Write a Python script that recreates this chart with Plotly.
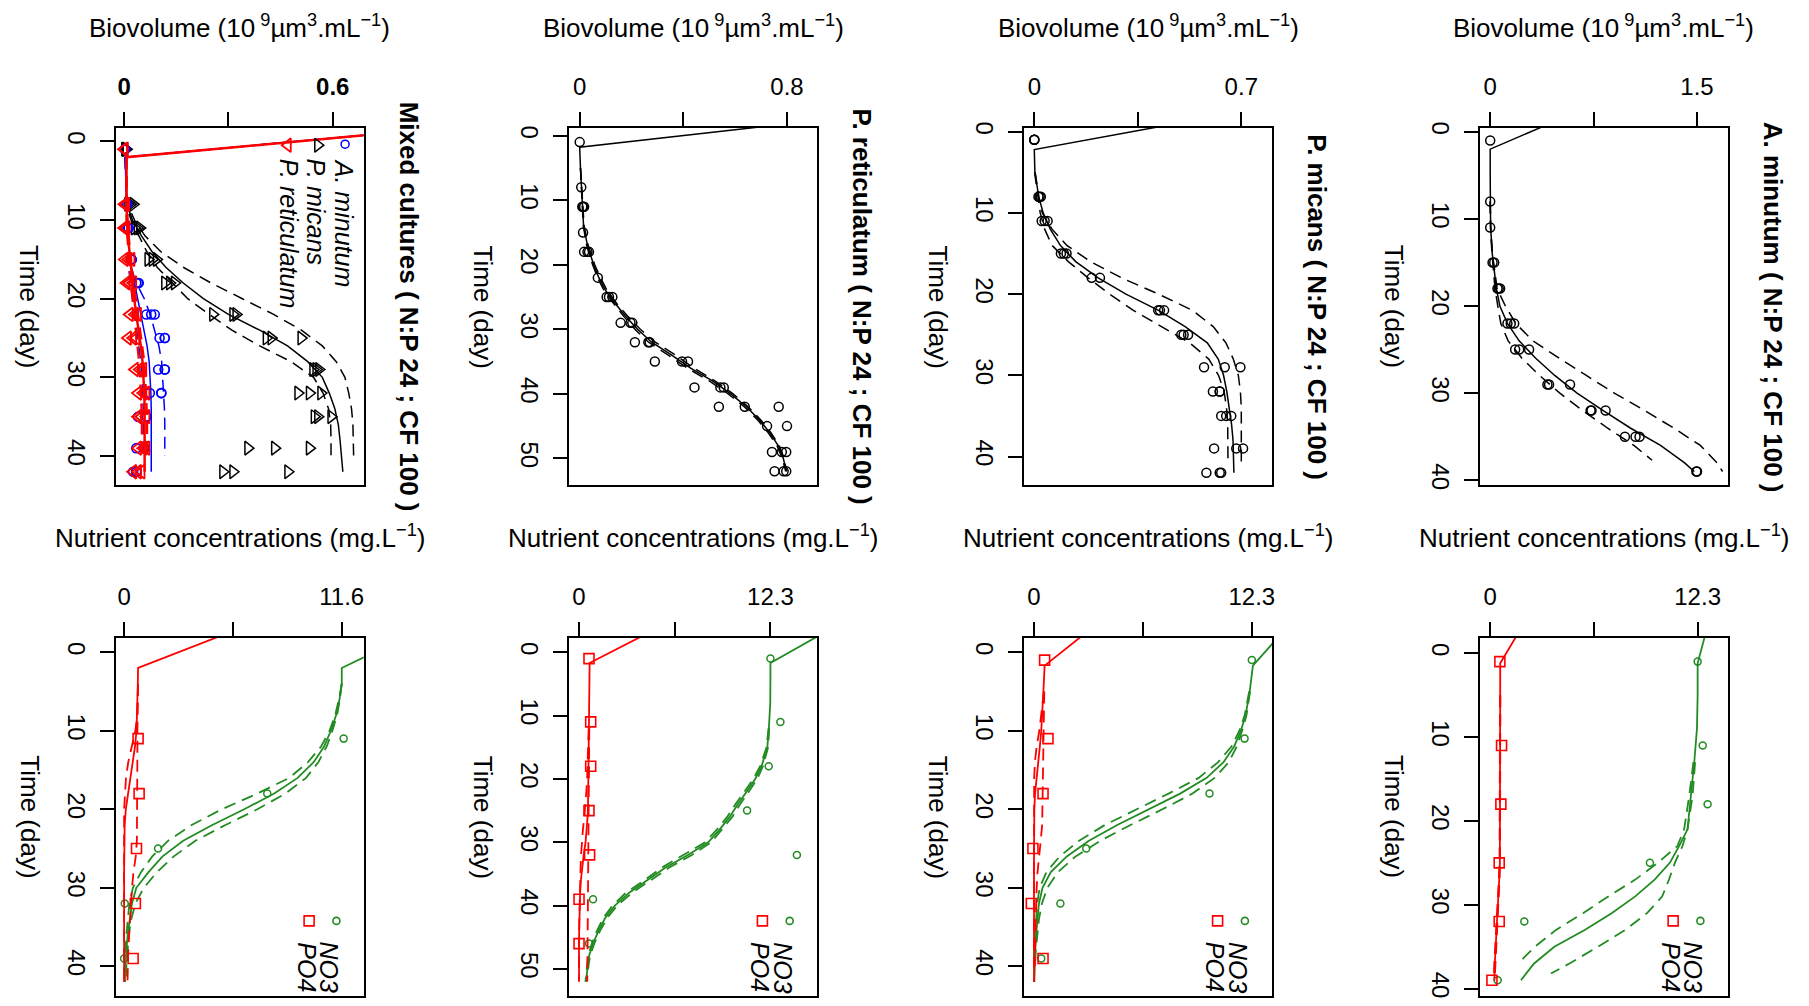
import plotly.graph_objects as go

W, H = 1809, 1006
OFF = 8  # the page body margin that offsets the figure on screen
FONT = "Liberation Sans, Arial, Helvetica, sans-serif"
RED, BLUE, GREEN, BLACK = "#FF0000", "#0000FF", "#228B22", "#000000"

# ======================= DATA =======================
# ---- Panel 1: mixed cultures, biovolume ----
MIX_OBS_T = [1, 1, 1, 8, 8, 8, 11, 11, 11, 15, 15, 15, 18, 18, 18, 22, 22, 22,
             25, 25, 25, 29, 29, 29, 32, 32, 32, 35, 35, 35, 39, 39, 39, 42, 42, 42]
MIX_PMIC_OBS = [.002, .004, .006, .011, .018, .026, .03, .038, .045, .069, .081, .093,
                .117, .131, .145, .255, .313, .322, .409, .423, .509, .543, .552, .56,
                .5, .533, .566, .547, .557, .595, .356, .433, .533, .284, .313, .471]
MIX_AMIN_OBS = [.002, .002, .003, .007, .008, .009, .01, .012, .013, .02, .021, .022,
                .035, .04, .042, .064, .078, .088, .102, .117, .117, .098, .117, .117,
                .074, .107, .107, .04, .064, .064, .035, .059, .059, .026, .035, .035]
MIX_PRET_OBS = [0, .001, .002, .001, .003, .006, 0, .004, .007, .002, .012, .021,
                .007, .015, .026, .016, .031, .04, .011, .026, .035, .031, .045, .055,
                .04, .055, .064, .04, .05, .064, .04, .055, .064, .026, .04, .05]
MIX_FIT_T = [-4, 2, 5, 8, 10, 12, 14, 16, 18, 20, 22, 24, 26, 28, 30, 32, 34, 36, 38, 40, 42]
MIX_PMIC_FIT = [1.48, .004, .005, .008, .024, .05, .08, .12, .17, .228, .30, .39, .47, .528,
                .57, .59, .606, .616, .621, .625, .629]
MIX_AMIN_FIT = [1.48, .003, .005, .007, .009, .012, .015, .021, .03, .038, .046, .056, .066,
                .072, .075, .077, .078, .078, .078, .078, .078]
MIX_PRET_FIT = [1.48, .007, .007, .007, .008, .011, .015, .019, .024, .029, .035, .042, .048,
                .053, .056, .058, .059, .059, .059, .059, .059]
MIX_DASH_T = [2, 5, 8, 10, 12, 14, 16, 18, 20, 22, 24, 26, 28, 30, 32, 34, 36, 38, 40]
MIX_PMIC_UP = [.004, .005, .01, .03, .06, .105, .17, .25, .34, .43, .51, .57, .61, .635,
               .646, .654, .658, .659, .66]
MIX_PMIC_LO = [.004, .005, .006, .02, .042, .065, .095, .14, .183, .245, .31, .39, .48, .545,
               .572, .588, .594, .595, .595]
MIX_AMIN_UP = [.003, .005, .008, .01, .013, .016, .02, .035, .058, .075, .088, .1, .108, .111,
               .113, .116, .117, .117, .117]
MIX_AMIN_LO = [.003, .005, .006, .008, .01, .012, .013, .018, .024, .03, .037, .043, .048, .052,
               .054, .055, .055, .055, .055]
MIX_PRET_UP = [.007, .007, .008, .01, .013, .017, .022, .028, .034, .041, .048, .054, .058, .061,
               .064, .065, .066, .066, .066]
MIX_PRET_LO = [.007, .007, .006, .007, .009, .012, .015, .019, .024, .029, .034, .039, .043, .046,
               .049, .05, .051, .051, .051]

# ---- Panel 2: mixed cultures, nutrients ----
MIXN_OBS_T = [11, 18, 25, 32, 39]
MIXN_NO3 = [11.7, 7.63, 1.81, 0.035, 0.0]
MIXN_PO4 = [0.745, 0.80, 0.66, 0.60, 0.48]
MIXN_FIT_T = [-4, 2, 4, 6, 8, 10, 12, 14, 16, 18, 20, 22, 24, 26, 28, 30, 32, 34, 36, 38, 40, 42]
MIXN_NO3_FIT = [16.8, 11.6, 11.6, 11.48, 11.3, 11.02, 10.66, 10.1, 9.25, 8.0, 6.4, 4.7, 3.15,
                2.05, 1.3, 0.65, 0.42, 0.29, 0.19, 0.12, 0.08, 0.035]
MIXN_PO4_FIT = [7.2, 0.745, 0.73, 0.71, 0.69, 0.66, 0.58, 0.45, 0.32, 0.2, 0.09, 0.03, 0.01,
                0, 0, 0, 0, 0, 0, 0, 0, 0]
MIXN_DASH_T = [4, 6, 8, 10, 12, 14, 16, 18, 20, 22, 24, 26, 28, 30, 32, 34, 36, 38, 40, 42]
MIXN_NO3_UP = [11.6, 11.5, 11.35, 11.1, 10.8, 10.35, 9.7, 8.6, 7.1, 5.4, 3.8, 2.65, 1.75, 1.05,
               0.6, 0.38, 0.25, 0.17, 0.12, 0.1]
MIXN_NO3_LO = [11.6, 11.45, 11.25, 10.95, 10.5, 9.8, 8.8, 7.1, 5.2, 3.6, 2.35, 1.5, 0.9, 0.47,
               0.28, 0.18, 0.12, 0.08, 0.06, 0.05]
MIXN_PO4_UP = [0.74, 0.72, 0.71, 0.71, 0.71, 0.71, 0.71, 0.71, 0.71, 0.7, 0.68, 0.62, 0.5, 0.42,
               0.36, 0.3, 0.25, 0.22, 0.2, 0.18]
MIXN_PO4_LO = [0.74, 0.72, 0.7, 0.6, 0.4, 0.22, 0.1, 0.03, 0, 0, 0, 0, 0, 0, 0, 0, 0, 0, 0, 0]

# ---- Panel 3: P. reticulatum, biovolume ----
PRET_OBS_T = [1, 8, 11, 11, 11, 15, 18, 18, 18, 22, 25, 25, 25, 29, 29, 29, 32, 32, 32,
              35, 35, 35, 39, 39, 39, 42, 42, 42, 45, 45, 49, 49, 49, 52, 52, 52]
PRET_OBS = [0, .006, .01, .013, .017, .013, .017, .03, .036, .07, .104, .113, .126,
            .158, .196, .203, .213, .265, .27, .29, .395, .418, .443, .543, .556,
            .537, .637, .768, .723, .8, .742, .78, .797, .752, .787, .797]
PRET_FIT_T = [-4, 1.8, 5, 8, 11, 14, 17, 20, 22, 24, 26, 28, 30, 32, 34, 36, 38, 40, 42, 44,
              46, 48, 50, 52]
PRET_FIT = [1.28, 0, .003, .007, .011, .015, .03, .054, .074, .1, .137, .178, .223, .278,
            .355, .428, .512, .583, .643, .693, .733, .766, .786, .797]
PRET_DASH_T = [5, 8, 11, 14, 17, 20, 22, 24, 26, 28, 30, 32, 34, 36, 38, 40, 42, 44, 46, 48, 50, 52]
PRET_UP = [.003, .008, .012, .017, .033, .058, .08, .106, .143, .186, .234, .292, .37, .44,
           .522, .592, .65, .698, .738, .77, .789, .798]
PRET_LO = [.003, .006, .01, .014, .027, .05, .069, .094, .131, .17, .213, .266, .342, .415,
           .5, .573, .635, .686, .727, .761, .782, .795]

# ---- Panel 4: P. micans, biovolume ----
PMIC_OBS_T = [1, 1, 1, 8, 8, 8, 11, 11, 11, 15, 15, 15, 18, 18, 22, 22, 22, 25, 25, 25,
              29, 29, 29, 32, 32, 32, 35, 35, 35, 39, 39, 39, 42, 42, 42]
PMIC_OBS = [0, 0, 0, .014, .018, .022, .025, .035, .045, .09, .1, .109, .194, .222,
            .419, .425, .439, .497, .505, .52, .574, .644, .697, .604, .627, .627,
            .632, .649, .666, .608, .683, .706, .582, .627, .632]
PMIC_FIT_T = [-4, 2.2, 5, 8, 10, 12, 14, 16, 18, 20, 22, 24, 26, 28, 30, 32, 34, 36, 38, 40, 42]
PMIC_FIT = [0.93, 0, .002, .015, .03, .054, .088, .14, .216, .31, .42, .51, .585, .622,
            .64, .651, .659, .667, .672, .674, .675]
PMIC_DASH_T = [5, 8, 10, 12, 14, 16, 18, 20, 22, 24, 26, 28, 30, 32, 34, 36, 38, 40, 41]
PMIC_UP = [.003, .015, .027, .06, .11, .19, .295, .42, .535, .605, .648, .673, .69, .697,
           .7, .7, .7, .7, .7]
PMIC_LO = [.001, .012, .02, .035, .06, .115, .182, .255, .335, .43, .525, .59, .623, .642,
           .65, .654, .655, .655, .655]

# ---- Panel 5: A. minutum, biovolume ----
AMIN_OBS_T = [1, 8, 11, 15, 15, 18, 18, 18, 22, 22, 22, 25, 25, 25, 29, 29, 29,
              32, 32, 32, 35, 35, 35, 39, 39]
AMIN_OBS = [0, 0, 0, .017, .029, .053, .062, .072, .125, .149, .174, .181, .21, .282,
            .415, .427, .579, .728, .735, .837, .977, 1.054, 1.083, 1.495, 1.5]
AMIN_FIT_T = [-4, 2, 5, 8, 11, 14, 16, 18, 20, 22, 24, 26, 28, 30, 32, 34, 36, 38, 39]
AMIN_FIT = [0.884, 0, 0, 0, .003, .015, .029, .045, .07, .125, .21, .33, .47, .63, .82,
            1.016, 1.235, 1.41, 1.48]
AMIN_UP_T = [8, 11, 14, 16, 18, 20, 22, 24, 26, 28, 30, 32, 34, 36, 38, 39]
AMIN_UP = [0, .004, .016, .032, .05, .11, .185, .31, .5, .7, .9, 1.12, 1.33, 1.524, 1.645, 1.685]
AMIN_LO_T = [8, 11, 14, 16, 18, 20, 22, 24, 26, 28, 30, 32, 34, 36, 37.7]
AMIN_LO = [0, .002, .013, .024, .035, .055, .077, .13, .23, .36, .505, .67, .85, 1.042, 1.174]

# ---- Panel 6: P. reticulatum, nutrients ----
PRETN_OBS_T = [1, 11, 18, 25, 32, 39, 46]
PRETN_NO3 = [12.3, 12.94, 12.19, 10.8, 14.0, 0.9, 0.64]
PRETN_PO4 = [0.64, 0.75, 0.75, 0.64, 0.68, 0.0, 0.0]
PRETN_FIT_T = [-4, 1.7, 4, 8, 12, 15, 18, 20, 22, 24, 26, 28, 30, 32, 34, 36, 38, 40, 42,
               44, 46, 48, 50, 52]
PRETN_NO3_FIT = [16.4, 12.3, 12.3, 12.29, 12.2, 12.1, 11.73, 11.32, 10.78, 10.2, 9.68, 9.03,
                 8.3, 7.0, 5.56, 4.4, 3.2, 2.3, 1.67, 1.25, 0.9, 0.64, 0.53, 0.44]
PRETN_PO4_FIT = [5.2, 0.68, 0.67, 0.66, 0.64, 0.63, 0.62, 0.61, 0.6, 0.58, 0.55, 0.5, 0.42,
                 0.3, 0.2, 0.12, 0.07, 0.04, 0.02, 0.01, 0, 0, 0, 0]
PRETN_DASH_T = [12, 15, 18, 20, 22, 24, 26, 28, 30, 32, 34, 36, 38, 40, 42, 44, 46, 48, 50, 52]
PRETN_NO3_UP = [12.22, 12.15, 11.82, 11.45, 10.92, 10.35, 9.85, 9.2, 8.5, 7.25, 5.8, 4.6, 3.4,
                2.45, 1.8, 1.35, 0.98, 0.7, 0.58, 0.47]
PRETN_NO3_LO = [12.18, 12.05, 11.64, 11.2, 10.64, 10.05, 9.52, 8.86, 8.1, 6.75, 5.32, 4.2, 3.0,
                2.15, 1.55, 1.15, 0.82, 0.58, 0.48, 0.41]
PRETN_PO4_UP = [0.66, 0.65, 0.64, 0.64, 0.63, 0.62, 0.62, 0.61, 0.6, 0.6, 0.59, 0.58, 0.57,
                0.56, 0.56, 0.55, 0.55, 0.54, 0.54, 0.53]
PRETN_PO4_LO = [0.62, 0.6, 0.56, 0.52, 0.47, 0.42, 0.34, 0.25, 0.18, 0.13, 0.1, 0.07, 0.05,
                0.03, 0.02, 0.01, 0, 0, 0, 0]

# ---- Panel 7: P. micans, nutrients ----
PMICN_OBS_T = [1, 11, 18, 25, 32, 39]
PMICN_NO3 = [12.3, 11.89, 9.91, 2.95, 1.49, 0.41]
PMICN_PO4 = [0.6, 0.79, 0.51, -0.06, -0.15, 0.51]
PMICN_FIT_T = [-4, 1.7, 5, 8, 10, 12, 14, 16, 18, 20, 22, 24, 26, 28, 30, 32, 34, 36, 38, 40, 42]
PMICN_NO3_FIT = [14.6, 12.36, 12.18, 11.95, 11.68, 11.3, 10.7, 9.75, 8.25, 6.5, 4.7, 3.1, 1.85,
                 0.95, 0.48, 0.28, 0.18, 0.12, 0.07, 0.04, 0.02]
PMICN_PO4_FIT = [3.78, 0.6, 0.53, 0.47, 0.41, 0.33, 0.23, 0.14, 0.06, 0.02, 0, 0, 0, 0, 0, 0,
                 0, 0, 0, 0, 0]
PMICN_DASH_T = [5, 8, 10, 12, 14, 16, 18, 20, 22, 24, 26, 28, 30, 32, 34, 36, 38, 40]
PMICN_NO3_UP = [12.2, 12.0, 11.75, 11.45, 11.0, 10.2, 8.95, 7.25, 5.45, 3.75, 2.35, 1.35, 0.75,
                0.45, 0.28, 0.18, 0.1, 0.06]
PMICN_NO3_LO = [12.15, 11.9, 11.6, 11.15, 10.4, 9.3, 7.6, 5.8, 4.0, 2.55, 1.45, 0.7, 0.32,
                0.18, 0.1, 0.06, 0.03, 0.02]
PMICN_PO4_UP = [0.58, 0.56, 0.55, 0.54, 0.53, 0.52, 0.51, 0.5, 0.46, 0.38, 0.28, 0.2, 0.15,
                0.12, 0.1, 0.08, 0.06, 0.05]
PMICN_PO4_LO = [0.56, 0.42, 0.3, 0.15, 0.05, 0.01, 0, 0, 0, 0, 0, 0, 0, 0, 0, 0, 0, 0]

# ---- Panel 8: A. minutum, nutrients ----
AMINN_OBS_T = [1, 11, 18, 25, 32, 39]
AMINN_NO3 = [12.3, 12.6, 12.89, 9.47, 2.02, 0.44]
AMINN_PO4 = [0.57, 0.67, 0.63, 0.53, 0.53, 0.1]
AMINN_FIT_T = [-4, 1.2, 5, 9, 13, 17, 21, 23, 25, 27, 29, 31, 33, 35, 37, 39]
AMINN_NO3_FIT = [12.99, 12.3, 12.3, 12.26, 12.1, 11.9, 11.7, 11.2, 10.65, 9.75, 8.6, 7.2, 5.6,
                 3.8, 2.6, 1.82]
AMINN_PO4_FIT = [2.13, 0.59, 0.59, 0.59, 0.59, 0.59, 0.59, 0.58, 0.57, 0.53, 0.47, 0.41, 0.35,
                 0.3, 0.27, 0.24]
AMINN_UP_T = [13, 17, 21, 23, 25, 27, 29, 31, 33, 35, 37, 38.2]
AMINN_NO3_UP = [12.15, 12.0, 11.7, 11.4, 10.95, 10.6, 10.2, 9.3, 8.0, 6.4, 4.7, 3.6]
AMINN_LO_T = [13, 17, 21, 23, 25, 27, 29, 31, 33, 35, 37]
AMINN_NO3_LO = [12.05, 11.8, 11.5, 11.1, 9.93, 8.6, 7.0, 5.5, 3.9, 2.65, 1.65]
AMINN_PO4_DASH_T = [5, 9, 13, 17, 21, 23, 25, 27, 29, 31, 33, 35, 37, 39]
AMINN_PO4_UP = [0.6, 0.6, 0.6, 0.6, 0.6, 0.59, 0.58, 0.55, 0.5, 0.45, 0.39, 0.34, 0.3, 0.26]
AMINN_PO4_LO = [0.58, 0.58, 0.58, 0.58, 0.58, 0.57, 0.55, 0.51, 0.45, 0.38, 0.32, 0.27, 0.24, 0.21]

# ---- text ----
BIO_TITLE = "Biovolume (10<sup> 9</sup>µm<sup>3</sup>.mL<sup>−1</sup>)"
NUT_TITLE = "Nutrient concentrations (mg.L<sup>−1</sup>)"
TIME_TITLE = "Time (day)"
PANEL_TITLES = ["Mixed cultures ( N:P 24 ; CF 100 )", "P. reticulatum ( N:P 24 ; CF 100 )",
                "P. micans ( N:P 24 ; CF 100 )", "A. minutum ( N:P 24 ; CF 100 )"]
SPECIES_LEG = ["A. minutum", "P. micans", "P. reticulatum"]
NUT_LEG = ["NO3", "PO4"]

# ======================= LAYOUT (screen pixel positions) =======================
COL_X = [(115.7, 364.3), (570.0, 818.3), (1025.7, 1274.3), (1482.3, 1730.5)]
ROW_Y = [(122.3, 483.7), (637.7, 1000.0)]
TITLE_SIZE = 26

PANELS = [
    dict(col=0, row=0, xr=[-0.0247, 0.689], tr=[43.75, -1.7], xt=[0, 0.3, 0.6], xl=["0", "", "0.6"], yt=[0, 10, 20, 30, 40], bold=True),
    dict(col=1, row=0, xr=[-0.041, 0.9156], tr=[54.2, -1.18], xt=[0, 0.4, 0.8], xl=["0", "", "0.8"], yt=[0, 10, 20, 30, 40, 50]),
    dict(col=2, row=0, xr=[-0.0348, 0.8045], tr=[43.57, -0.45], xt=[0, 0.35, 0.7], xl=["0", "", "0.7"], yt=[0, 10, 20, 30, 40]),
    dict(col=3, row=0, xr=[-0.075, 1.722], tr=[40.6, -0.42], xt=[0, 0.75, 1.5], xl=["0", "", "1.5"], yt=[0, 10, 20, 30, 40]),
    dict(col=0, row=1, xr=[-0.458, 12.77], tr=[43.8, -1.84], xt=[0, 5.8, 11.6], xl=["0", "", "11.6"], yt=[0, 10, 20, 30, 40]),
    dict(col=1, row=1, xr=[-0.64, 15.29], tr=[54.3, -2.28], xt=[0, 6.15, 12.3], xl=["0", "", "12.3"], yt=[0, 10, 20, 30, 40, 50]),
    dict(col=2, row=1, xr=[-0.564, 13.45], tr=[43.8, -1.84], xt=[0, 6.15, 12.3], xl=["0", "", "12.3"], yt=[0, 10, 20, 30, 40]),
    dict(col=3, row=1, xr=[-0.617, 14.08], tr=[40.9, -1.84], xt=[0, 6.15, 12.3], xl=["0", "", "12.3"], yt=[0, 10, 20, 30, 40]),
]

fig = go.Figure()


def px(x):
    return (x - OFF) / W


def py(y):
    return 1 - (y - OFF) / H


def ax(k):
    return ("x" if k == 0 else f"x{k+1}"), ("y" if k == 0 else f"y{k+1}")


def line(k, t, v, color, dash="solid", width=1.5):
    xa, ya = ax(k)
    fig.add_trace(go.Scatter(x=v, y=t, xaxis=xa, yaxis=ya, mode="lines",
                             line=dict(color=color, width=width,
                                       dash=("12px,7px" if dash == "dash" else "solid")),
                             showlegend=False, hoverinfo="skip"))


def pts(k, t, v, color, symbol, size=9, lw=1.5):
    xa, ya = ax(k)
    fig.add_trace(go.Scatter(x=v, y=t, xaxis=xa, yaxis=ya, mode="markers",
                             marker=dict(symbol=symbol, size=size, color=color,
                                         line=dict(color=color, width=lw)),
                             showlegend=False, hoverinfo="skip", cliponaxis=False))


# ---- Panel 1 ----
pts(0, MIX_OBS_T, MIX_PMIC_OBS, BLACK, "triangle-right-open", 12, 1.5)
line(0, MIX_FIT_T, MIX_PMIC_FIT, BLACK)
line(0, MIX_DASH_T, MIX_PMIC_UP, BLACK, "dash")
line(0, MIX_DASH_T, MIX_PMIC_LO, BLACK, "dash")
pts(0, MIX_OBS_T, MIX_AMIN_OBS, BLUE, "circle-open", 9, 1.6)
line(0, MIX_FIT_T, MIX_AMIN_FIT, BLUE)
line(0, MIX_DASH_T, MIX_AMIN_UP, BLUE, "dash")
line(0, MIX_DASH_T, MIX_AMIN_LO, BLUE, "dash")
pts(0, MIX_OBS_T, MIX_PRET_OBS, RED, "triangle-left-open", 12, 1.8)
line(0, MIX_FIT_T, MIX_PRET_FIT, RED, width=2.5)
line(0, MIX_DASH_T, MIX_PRET_UP, RED, "dash", 2.2)
line(0, MIX_DASH_T, MIX_PRET_LO, RED, "dash", 2.2)

# ---- Panels 3-5 (single species biovolume) ----
pts(1, PRET_OBS_T, PRET_OBS, BLACK, "circle-open")
line(1, PRET_FIT_T, PRET_FIT, BLACK)
line(1, PRET_DASH_T, PRET_UP, BLACK, "dash")
line(1, PRET_DASH_T, PRET_LO, BLACK, "dash")

pts(2, PMIC_OBS_T, PMIC_OBS, BLACK, "circle-open")
line(2, PMIC_FIT_T, PMIC_FIT, BLACK)
line(2, PMIC_DASH_T, PMIC_UP, BLACK, "dash")
line(2, PMIC_DASH_T, PMIC_LO, BLACK, "dash")

pts(3, AMIN_OBS_T, AMIN_OBS, BLACK, "circle-open")
line(3, AMIN_FIT_T, AMIN_FIT, BLACK)
line(3, AMIN_UP_T, AMIN_UP, BLACK, "dash")
line(3, AMIN_LO_T, AMIN_LO, BLACK, "dash")

# ---- Nutrient panels ----
NUT = [
    (4, MIXN_OBS_T, MIXN_NO3, MIXN_PO4, MIXN_FIT_T, MIXN_NO3_FIT, MIXN_PO4_FIT,
     MIXN_DASH_T, MIXN_NO3_UP, MIXN_DASH_T, MIXN_NO3_LO, MIXN_DASH_T, MIXN_PO4_UP, MIXN_PO4_LO),
    (5, PRETN_OBS_T, PRETN_NO3, PRETN_PO4, PRETN_FIT_T, PRETN_NO3_FIT, PRETN_PO4_FIT,
     PRETN_DASH_T, PRETN_NO3_UP, PRETN_DASH_T, PRETN_NO3_LO, PRETN_DASH_T, PRETN_PO4_UP, PRETN_PO4_LO),
    (6, PMICN_OBS_T, PMICN_NO3, PMICN_PO4, PMICN_FIT_T, PMICN_NO3_FIT, PMICN_PO4_FIT,
     PMICN_DASH_T, PMICN_NO3_UP, PMICN_DASH_T, PMICN_NO3_LO, PMICN_DASH_T, PMICN_PO4_UP, PMICN_PO4_LO),
    (7, AMINN_OBS_T, AMINN_NO3, AMINN_PO4, AMINN_FIT_T, AMINN_NO3_FIT, AMINN_PO4_FIT,
     AMINN_UP_T, AMINN_NO3_UP, AMINN_LO_T, AMINN_NO3_LO, AMINN_PO4_DASH_T, AMINN_PO4_UP, AMINN_PO4_LO),
]
for (k, ot, no3, po4, ft, nfit, pfit, ut, nup, lt, nlo, pdt, pup, plo) in NUT:
    pts(k, ot, no3, GREEN, "circle-open", 7, 1.5)
    line(k, ft, nfit, GREEN, width=1.8)
    line(k, ut, nup, GREEN, "dash", 1.8)
    line(k, lt, nlo, GREEN, "dash", 1.8)
    pts(k, ot, po4, RED, "square-open", 10, 1.6)
    line(k, ft, pfit, RED, width=1.8)
    line(k, pdt, pup, RED, "dash", 1.8)
    line(k, pdt, plo, RED, "dash", 1.8)

# ---- axes ----
annotations = []
for k, p in enumerate(PANELS):
    x0, x1 = COL_X[p["col"]]
    y0, y1 = ROW_Y[p["row"]]
    xa = "xaxis" if k == 0 else f"xaxis{k+1}"
    ya = "yaxis" if k == 0 else f"yaxis{k+1}"
    xanchor, yanchor = ax(k)
    tf = dict(family=FONT, size=24, color="black")
    xtf = dict(tf, weight="bold") if p.get("bold") else tf
    fig.layout[xa] = dict(domain=[px(x0), px(x1)], range=p["xr"], anchor=yanchor, side="top",
                          showline=True, mirror=True, linecolor="black", linewidth=2,
                          ticks="outside", ticklen=14, tickwidth=2, tickcolor="black",
                          tickvals=p["xt"], ticktext=p["xl"], tickfont=xtf, tickangle=0,
                          showgrid=False, zeroline=False, ticklabelstandoff=7)
    fig.layout[ya] = dict(domain=[py(y1), py(y0)], range=p["tr"], anchor=xanchor,
                          showline=True, mirror=True, linecolor="black", linewidth=2,
                          ticks="outside", ticklen=14, tickwidth=2, tickcolor="black",
                          tickvals=p["yt"], ticktext=[str(v) for v in p["yt"]], tickfont=tf,
                          tickangle=90, showgrid=False, zeroline=False, ticklabelstandoff=3)
    cx = (x0 + x1) / 2
    cy = (y0 + y1) / 2
    annotations.append(dict(x=px(cx), y=py(y0 - 102.5), xref="paper", yref="paper",
                            text=BIO_TITLE if p["row"] == 0 else NUT_TITLE, showarrow=False,
                            font=dict(family=FONT, size=TITLE_SIZE, color="black"),
                            xanchor="center", yanchor="middle"))
    annotations.append(dict(x=px(x0 - 86), y=py(cy), xref="paper", yref="paper",
                            text=TIME_TITLE, showarrow=False, textangle=90,
                            font=dict(family=FONT, size=TITLE_SIZE, color="black"),
                            xanchor="center", yanchor="middle"))
    if p["row"] == 0:
        annotations.append(dict(x=px(x1 + 45.5), y=py(cy), xref="paper", yref="paper",
                                text="<b>" + PANEL_TITLES[p["col"]] + "</b>", showarrow=False,
                                textangle=90, font=dict(family=FONT, size=TITLE_SIZE, color="black"),
                                xanchor="center", yanchor="middle"))


def frac(k, fx, fy):
    p = PANELS[k]
    x = p["xr"][0] + fx * (p["xr"][1] - p["xr"][0])
    t = p["tr"][1] + fy * (p["tr"][0] - p["tr"][1])
    return x, t


def frac_px(k, fx, fy):
    p = PANELS[k]
    x0, x1 = COL_X[p["col"]]
    y0, y1 = ROW_Y[p["row"]]
    return x0 + fx * (x1 - x0), y0 + fy * (y1 - y0)


# ---- panel 1 legend ----
LEG1 = [(0.925, 0.045, BLUE, "circle-open", 8, 1.5, 0.92),
        (0.815, 0.048, BLACK, "triangle-right-open", 12, 1.5, 0.806),
        (0.694, 0.048, RED, "triangle-left-open", 12, 1.8, 0.699)]
for (fx, fy, col, sym, sz, lw, tfx), lab in zip(LEG1, SPECIES_LEG):
    x, t = frac(0, fx, fy)
    pts(0, [t], [x], col, sym, sz, lw)
    lx, ly = frac_px(0, tfx, 0.08)
    annotations.append(dict(x=px(lx), y=py(ly), xref="paper", yref="paper",
                            text="<i>" + lab + "</i>", showarrow=False, textangle=90,
                            font=dict(family=FONT, size=25, color="black"),
                            xanchor="center", yanchor="top"))

# ---- nutrient legends ----
for k in (4, 5, 6, 7):
    for (fx, col, sym, sz, tfx), lab in zip([(0.89, GREEN, "circle-open", 7, 0.862),
                                             (0.78, RED, "square-open", 10, 0.77)], NUT_LEG):
        x, t = frac(k, fx, 0.79)
        pts(k, [t], [x], col, sym, sz, 1.6)
        lx, ly = frac_px(k, tfx, 0.843)
        annotations.append(dict(x=px(lx), y=py(ly), xref="paper", yref="paper",
                                text="<i>" + lab + "</i>", showarrow=False, textangle=90,
                                font=dict(family=FONT, size=25, color="black"),
                                xanchor="center", yanchor="top"))

fig.update_layout(width=W, height=H, margin=dict(l=0, r=0, t=0, b=0), autosize=False,
                  paper_bgcolor="white", plot_bgcolor="white", showlegend=False,
                  annotations=annotations, font=dict(family=FONT, color="black"))

fig.write_html("out.html")
